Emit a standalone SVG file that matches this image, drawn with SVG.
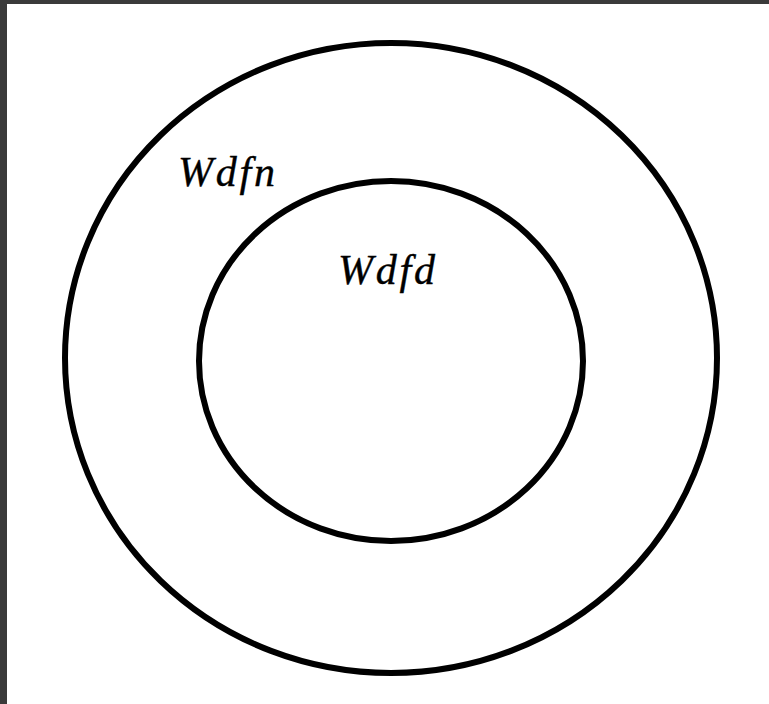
<svg xmlns="http://www.w3.org/2000/svg" width="769" height="704" viewBox="0 0 769 704">
<style>
.ring{fill:none;stroke:#000;stroke-width:6}
.lbl{font-family:"Liberation Serif","Times New Roman",serif;font-style:italic;font-size:42px;letter-spacing:3px;fill:#000;stroke:#000;stroke-width:0.4}
</style>
<rect x="0" y="0" width="769" height="704" fill="#3a3a3a"/>
<rect x="7" y="4" width="762" height="700" fill="#fff"/>
<g id="outer">
<ellipse class="ring" cx="391" cy="358" rx="326" ry="315"/>
<text class="lbl" x="178" y="186" textLength="100" lengthAdjust="spacing">Wdfn</text>
</g>
<g id="inner">
<ellipse class="ring" cx="391" cy="361" rx="192" ry="180"/>
<text class="lbl" x="338" y="284" textLength="100" lengthAdjust="spacing">Wdfd</text>
</g>
<g id="connectors"></g>
</svg>
